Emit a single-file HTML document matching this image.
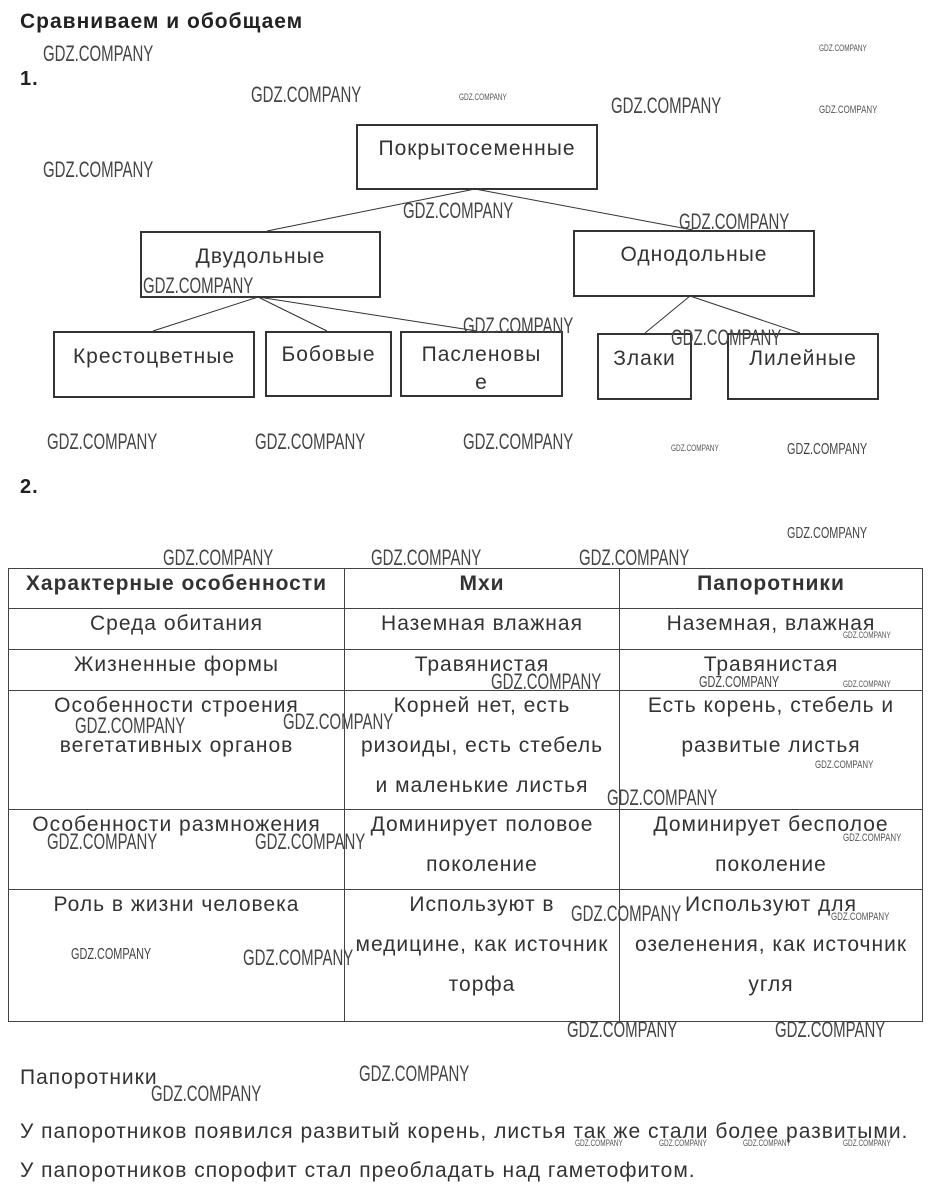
<!DOCTYPE html>
<html><head><meta charset="utf-8"><style>
body{margin:0;width:934px;height:1195px;background:#fff;position:relative;overflow:hidden;font-family:"Liberation Sans",sans-serif;color:#333;letter-spacing:1px}
.a{position:absolute;white-space:nowrap}
.b{position:absolute;border:2px solid #333;box-sizing:border-box;font-size:21px;text-align:center}
.w{position:absolute;white-space:nowrap;color:#444;font-family:"Liberation Sans Narrow","Liberation Sans",sans-serif;transform-origin:0 0;transform:scaleX(.68);font-size:22px;letter-spacing:0}
.ws{position:absolute;white-space:nowrap;color:#555;font-size:9px;transform-origin:0 0;transform:scaleX(.72);letter-spacing:0}
table{position:absolute;left:8px;top:568px;width:915px;border-collapse:collapse;font-size:21px;color:#333;table-layout:fixed}
td{border:1px solid #444;text-align:center;vertical-align:top;line-height:40px;padding:0;white-space:nowrap;overflow:hidden}
td div{margin-top:-5px}
</style></head><body>
<div class="a" style="left:20px;top:10px;font-size:21px;font-weight:bold;color:#222">Сравниваем и обобщаем</div>
<div class="a" style="left:20px;top:68px;font-size:20px;font-weight:bold;color:#222">1.</div>
<svg class="a" style="left:0;top:0" width="934" height="420"><g stroke="#333" stroke-width="1">
<line x1="475" y1="189" x2="267" y2="231"/><line x1="475" y1="189" x2="693" y2="230"/>
<line x1="258" y1="297" x2="153" y2="331"/><line x1="258" y1="297" x2="327" y2="331"/><line x1="258" y1="297" x2="477" y2="331"/>
<line x1="690" y1="296" x2="645" y2="333"/><line x1="690" y1="296" x2="800" y2="333"/></g></svg>
<div class="b" style="left:356px;top:124px;width:242px;height:66px;padding-top:11px">Покрытосеменные</div>
<div class="b" style="left:140px;top:231px;width:241px;height:67px;padding-top:12px">Двудольные</div>
<div class="b" style="left:573px;top:230px;width:242px;height:67px;padding-top:11px">Однодольные</div>
<div class="b" style="left:53px;top:331px;width:202px;height:67px;padding-top:12px">Крестоцветные</div>
<div class="b" style="left:265px;top:331px;width:127px;height:66px;padding-top:10px">Бобовые</div>
<div class="b" style="left:400px;top:331px;width:163px;height:66px;padding-top:8px;line-height:28px">Пасленовы<br>е</div>
<div class="b" style="left:597px;top:333px;width:95px;height:67px;padding-top:12px">Злаки</div>
<div class="b" style="left:727px;top:333px;width:152px;height:67px;padding-top:12px">Лилейные</div>
<div class="a" style="left:20px;top:476px;font-size:20px;font-weight:bold;color:#222">2.</div>
<table>
<tr style="height:40px"><td style="width:335px;font-weight:bold"><div>Характерные особенности</div></td><td style="width:274px;font-weight:bold"><div>Мхи</div></td><td style="font-weight:bold"><div>Папоротники</div></td></tr>
<tr style="height:41px"><td><div>Среда обитания</div></td><td><div>Наземная влажная</div></td><td><div>Наземная, влажная</div></td></tr>
<tr style="height:41px"><td><div>Жизненные формы</div></td><td><div>Травянистая</div></td><td><div>Травянистая</div></td></tr>
<tr style="height:119px"><td><div>Особенности строения<br>вегетативных органов</div></td><td><div>Корней нет, есть<br>ризоиды, есть стебель<br>и маленькие листья</div></td><td><div>Есть корень, стебель и<br>развитые листья</div></td></tr>
<tr style="height:80px"><td><div>Особенности размножения</div></td><td><div>Доминирует половое<br>поколение</div></td><td><div>Доминирует бесполое<br>поколение</div></td></tr>
<tr style="height:132px"><td><div>Роль в жизни человека</div></td><td><div>Используют в<br>медицине, как источник<br>торфа</div></td><td><div>Используют для<br>озеленения, как источник<br>угля</div></td></tr>
</table>
<div class="a" style="left:20px;top:1066px;font-size:21px">Папоротники</div>
<div class="a" style="left:20px;top:1120px;font-size:21px">У папоротников появился развитый корень, листья так же стали более развитыми.</div>
<div class="a" style="left:20px;top:1159px;font-size:21px">У папоротников спорофит стал преобладать над гаметофитом.</div>
<div class="w" style="left:43px;top:41px">GDZ.COMPANY</div>
<div class="w" style="left:251px;top:82px">GDZ.COMPANY</div>
<div class="w" style="left:611px;top:93px">GDZ.COMPANY</div>
<div class="w" style="left:43px;top:157px">GDZ.COMPANY</div>
<div class="w" style="left:403px;top:198px">GDZ.COMPANY</div>
<div class="w" style="left:679px;top:209px">GDZ.COMPANY</div>
<div class="w" style="left:143px;top:273px">GDZ.COMPANY</div>
<div class="w" style="left:463px;top:313px">GDZ.COMPANY</div>
<div class="w" style="left:671px;top:325px">GDZ.COMPANY</div>
<div class="w" style="left:47px;top:429px">GDZ.COMPANY</div>
<div class="w" style="left:255px;top:429px">GDZ.COMPANY</div>
<div class="w" style="left:463px;top:429px">GDZ.COMPANY</div>
<div class="w" style="left:787px;top:441px;font-size:16px">GDZ.COMPANY</div>
<div class="w" style="left:787px;top:525px;font-size:16px">GDZ.COMPANY</div>
<div class="w" style="left:163px;top:545px">GDZ.COMPANY</div>
<div class="w" style="left:371px;top:545px">GDZ.COMPANY</div>
<div class="w" style="left:579px;top:545px">GDZ.COMPANY</div>
<div class="w" style="left:491px;top:669px">GDZ.COMPANY</div>
<div class="w" style="left:699px;top:674px;font-size:16px">GDZ.COMPANY</div>
<div class="w" style="left:75px;top:713px">GDZ.COMPANY</div>
<div class="w" style="left:283px;top:709px">GDZ.COMPANY</div>
<div class="w" style="left:607px;top:785px">GDZ.COMPANY</div>
<div class="w" style="left:47px;top:829px">GDZ.COMPANY</div>
<div class="w" style="left:255px;top:829px">GDZ.COMPANY</div>
<div class="w" style="left:571px;top:901px">GDZ.COMPANY</div>
<div class="w" style="left:243px;top:945px">GDZ.COMPANY</div>
<div class="w" style="left:71px;top:946px;font-size:16px">GDZ.COMPANY</div>
<div class="w" style="left:567px;top:1017px">GDZ.COMPANY</div>
<div class="w" style="left:775px;top:1017px">GDZ.COMPANY</div>
<div class="w" style="left:359px;top:1061px">GDZ.COMPANY</div>
<div class="w" style="left:151px;top:1081px">GDZ.COMPANY</div>
<div class="ws" style="left:819px;top:43px">GDZ.COMPANY</div>
<div class="ws" style="left:459px;top:92px">GDZ.COMPANY</div>
<div class="ws" style="left:819px;top:104px;font-size:11px">GDZ.COMPANY</div>
<div class="ws" style="left:671px;top:443px">GDZ.COMPANY</div>
<div class="ws" style="left:843px;top:630px">GDZ.COMPANY</div>
<div class="ws" style="left:843px;top:679px">GDZ.COMPANY</div>
<div class="ws" style="left:815px;top:759px;font-size:11px">GDZ.COMPANY</div>
<div class="ws" style="left:843px;top:832px;font-size:11px">GDZ.COMPANY</div>
<div class="ws" style="left:831px;top:911px;font-size:11px">GDZ.COMPANY</div>
<div class="ws" style="left:575px;top:1138px">GDZ.COMPANY</div>
<div class="ws" style="left:659px;top:1138px">GDZ.COMPANY</div>
<div class="ws" style="left:743px;top:1138px">GDZ.COMPANY</div>
<div class="ws" style="left:843px;top:1138px">GDZ.COMPANY</div>
</body></html>
